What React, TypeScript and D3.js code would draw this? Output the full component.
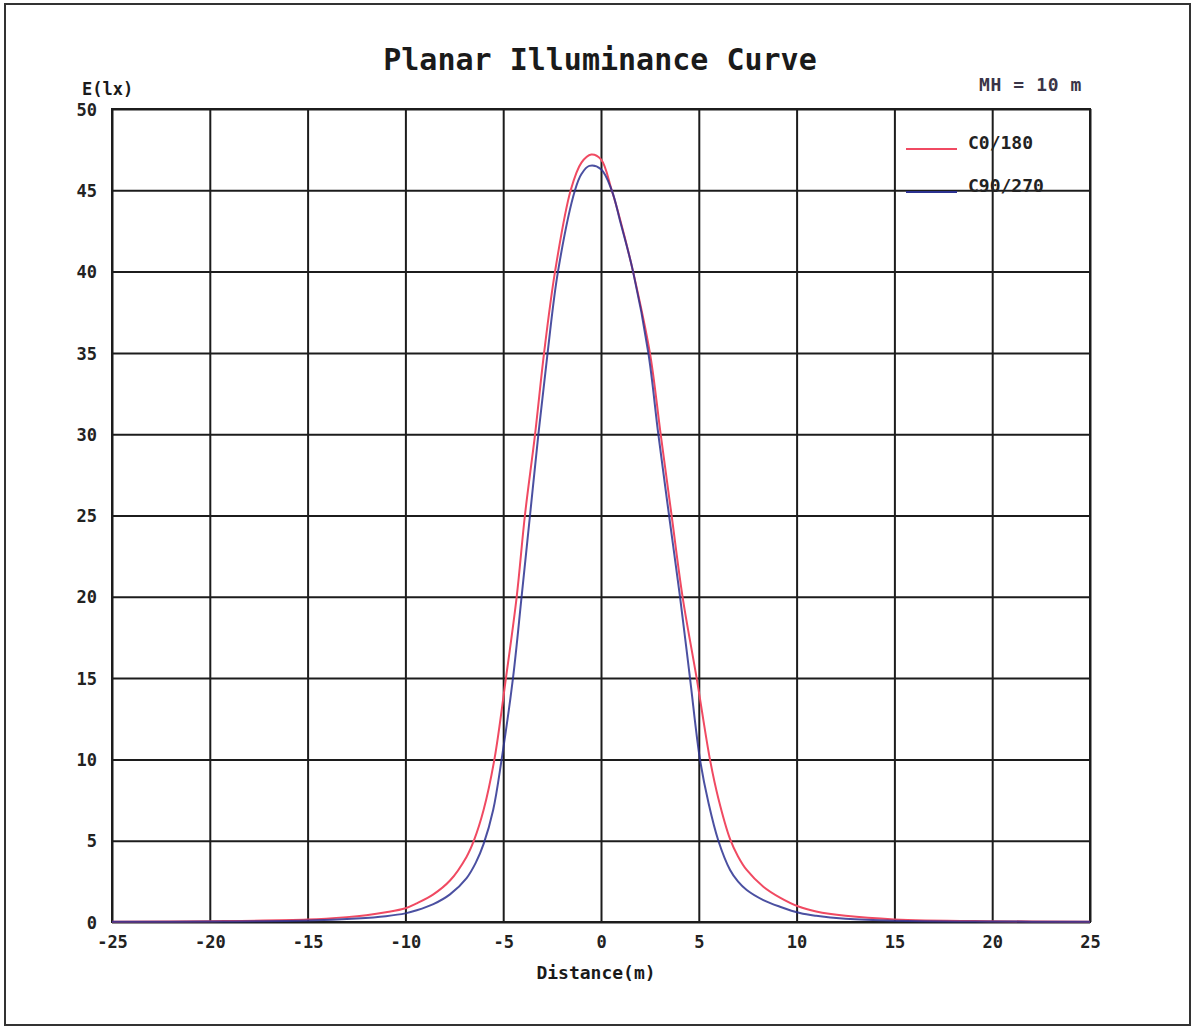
import React, { useEffect, useRef } from 'react'
import * as d3 from 'd3'

// axis ticks
const distanceTicks = [-25, -20, -15, -10, -5, 0, 5, 10, 15, 20, 25]
const illuminanceTicks = [0, 5, 10, 15, 20, 25, 30, 35, 40, 45, 50]

// C0/180 curve (distance in m, E in lx)
const c0Distance = [-25, -20, -15, -13, -12, -11, -10, -9.42, -8.57, -7.72, -6.87, -6.5, -6.0, -5.45, -4.86, -4.31, -3.89, -3.37, -2.91, -2.35, -1.55, -1.0, -0.5, 0, 0.55, 1.0, 1.64, 2.5, 3.05, 3.61, 4.17, 4.89, 5.57, 6.0, 6.6, 7.0, 7.45, 8.3, 9.15, 10.1, 11, 12.5, 15, 20, 25]
const c0Illuminance = [0.02, 0.05, 0.15, 0.3, 0.42, 0.6, 0.85, 1.15, 1.7, 2.55, 4.02, 5.0, 6.9, 10.0, 15, 20, 25, 30, 35, 40, 45, 46.7, 47.2, 46.9, 45, 43.1, 40, 35, 30, 25, 20, 15, 10, 7.6, 5.1, 4.05, 3.2, 2.17, 1.5, 0.95, 0.65, 0.38, 0.16, 0.05, 0.02]

// C90/270 curve
const c90Distance = [-25, -20, -15, -12.5, -11, -10, -9.42, -8.57, -7.72, -6.87, -6.4, -6.0, -5.51, -5.08, -4.5, -4.06, -3.63, -3.2, -2.73, -2.2, -1.33, -1.0, -0.6, 0, 0.55, 1.0, 1.64, 2.42, 2.93, 3.48, 4.04, 4.55, 5.06, 5.5, 6.0, 6.6, 7.0, 7.45, 8.3, 9.15, 10.17, 11, 12.5, 15, 20, 25]
const c90Illuminance = [0.01, 0.03, 0.09, 0.22, 0.36, 0.53, 0.72, 1.1, 1.7, 2.7, 3.65, 4.8, 6.9, 10, 15, 20, 25, 30, 35, 40, 45, 46.0, 46.5, 46.3, 45, 43.0, 40, 35, 30, 25, 20, 15, 10, 7.3, 5.0, 3.2, 2.5, 1.97, 1.35, 0.94, 0.55, 0.38, 0.2, 0.08, 0.03, 0.01]

const seriesNames = ['C0/180', 'C90/270']
const seriesColors = ['#f04a62', '#2b3190']

function App() {
    const svgRef = useRef<SVGSVGElement>(null)

    useEffect(() => {
        const width = 1200
        const height = 1028
        const font = "'DejaVu Sans Mono', 'Liberation Mono', monospace"
        const ink = '#1c1c1c'

        const svg = d3.select(svgRef.current)
        svg.selectAll('*').remove()
        svg.attr('width', width)
            .attr('height', height)
            .style('position', 'absolute')
            .style('left', '0px')
            .style('top', '0px')
            .style('background', '#fff')

        const xScale = d3.scaleLinear().domain([-25, 25]).range([112, 1090])
        const yScale = d3.scaleLinear().domain([0, 50]).range([922, 109])
        const plotW = xScale(25) - xScale(-25)
        const plotH = yScale(0) - yScale(50)

        // outer frame
        svg.append('rect')
            .attr('x', 5).attr('y', 4)
            .attr('width', 1185).attr('height', 1021)
            .attr('fill', 'none')
            .attr('stroke', '#333')
            .attr('stroke-width', 2)

        // vertical grid + x labels
        const xAxis = d3.axisBottom(xScale)
            .tickValues(distanceTicks)
            .tickSize(-plotH)
            .tickSizeOuter(0)
            .tickFormat(d => String(d))
        const gx = svg.append('g')
            .attr('transform', `translate(0, ${yScale(0)})`)
            .call(xAxis)
        gx.select('.domain').remove()
        gx.selectAll('line').attr('stroke', ink).attr('stroke-width', 2)
        gx.selectAll('text')
            .attr('y', 26).attr('dy', 0)
            .attr('fill', '#222')
            .style('font-family', font)
            .style('font-weight', 'bold')
            .style('font-size', '17px')

        // horizontal grid + y labels
        const yAxis = d3.axisLeft(yScale)
            .tickValues(illuminanceTicks)
            .tickSize(-plotW)
            .tickSizeOuter(0)
            .tickFormat(d => String(d))
        const gy = svg.append('g')
            .attr('transform', `translate(${xScale(-25)}, 0)`)
            .call(yAxis)
        gy.select('.domain').remove()
        gy.selectAll('line').attr('stroke', ink).attr('stroke-width', 2)
        gy.selectAll('text')
            .attr('x', -15).attr('dy', '0.36em')
            .attr('fill', '#222')
            .style('font-family', font)
            .style('font-weight', 'bold')
            .style('font-size', '17px')

        // plot border
        svg.append('rect')
            .attr('x', xScale(-25)).attr('y', yScale(50))
            .attr('width', plotW).attr('height', plotH)
            .attr('fill', 'none')
            .attr('stroke', ink)
            .attr('stroke-width', 2)

        const line = d3.line<[number, number]>()
            .x(d => xScale(d[0]))
            .y(d => yScale(d[1]))
            .curve(d3.curveCatmullRom.alpha(0.5))

        const series = [
            c0Distance.map((d, i) => [d, c0Illuminance[i]] as [number, number]),
            c90Distance.map((d, i) => [d, c90Illuminance[i]] as [number, number]),
        ]

        series.forEach((pts, i) => {
            svg.append('path')
                .datum(pts)
                .attr('d', line)
                .attr('fill', 'none')
                .attr('stroke', seriesColors[i])
                .attr('stroke-width', 2)
                .attr('opacity', i === 1 ? 0.85 : 1)
        })

        // legend
        const legendY = [149, 192]
        seriesNames.forEach((name, i) => {
            svg.append('line')
                .attr('x1', 906).attr('x2', 957)
                .attr('y1', legendY[i]).attr('y2', legendY[i])
                .attr('stroke', seriesColors[i])
                .attr('stroke-width', 2)
            svg.append('text')
                .attr('x', 968).attr('y', legendY[i] - 6)
                .attr('dy', '0.36em')
                .attr('fill', '#222')
                .style('font-family', font)
                .style('font-weight', 'bold')
                .style('font-size', '18px')
                .text(name)
        })

        // titles
        svg.append('text')
            .attr('x', 600).attr('y', 70)
            .attr('text-anchor', 'middle')
            .attr('fill', '#1a1a1a')
            .style('font-family', font)
            .style('font-weight', 'bold')
            .style('font-size', '30px')
            .text('Planar Illuminance Curve')

        svg.append('text')
            .attr('x', 82).attr('y', 95)
            .attr('fill', '#1a1a1a')
            .style('font-family', font)
            .style('font-weight', 'bold')
            .style('font-size', '17px')
            .text('E(lx)')

        svg.append('text')
            .attr('x', 1082).attr('y', 91)
            .attr('text-anchor', 'end')
            .attr('fill', '#3a3548')
            .style('font-family', font)
            .style('font-weight', 'bold')
            .style('font-size', '18px')
            .style('letter-spacing', '0.6px')
            .text('MH = 10 m')

        svg.append('text')
            .attr('x', 596).attr('y', 979)
            .attr('text-anchor', 'middle')
            .attr('fill', '#1a1a1a')
            .style('font-family', font)
            .style('font-weight', 'bold')
            .style('font-size', '18px')
            .text('Distance(m)')
    }, [])

    return <svg ref={svgRef}></svg>
}

export default App
